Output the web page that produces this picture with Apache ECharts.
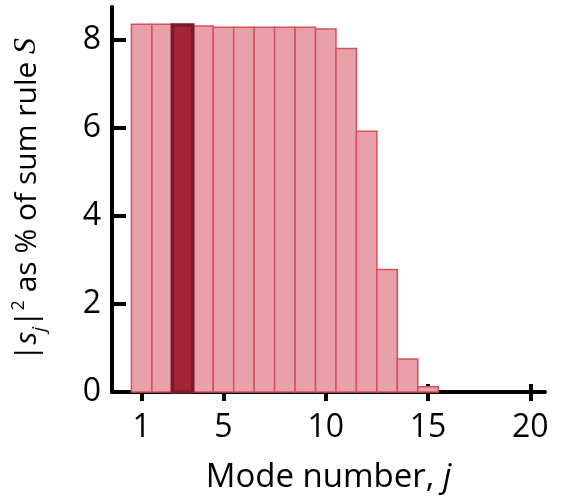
<!DOCTYPE html>
<html>
<head>
<meta charset="utf-8">
<script src="https://cdn.jsdelivr.net/npm/echarts@6/dist/echarts.min.js"></script>
<style>
  html, body { margin: 0; padding: 0; background: #fff; }
  #chart { width: 562px; height: 502px; }
</style>
</head>
<body>
<div id="chart"></div>
<script>
// Mode numbers and the share of the sum rule carried by each mode (%)
const modeNumbers = [1, 2, 3, 4, 5, 6, 7, 8, 9, 10, 11, 12, 13, 14, 15];
const sumRuleShare = [8.35, 8.35, 8.33, 8.31, 8.28, 8.28, 8.28, 8.28, 8.28, 8.24, 7.80, 5.92, 2.78, 0.75, 0.12];
// mode drawn highlighted
const highlightedMode = 3;
// axis tick labels
const xTickValues = [1, 5, 10, 15, 20];
const yTickValues = [0, 2, 4, 6, 8];

const FONT = 'Open Sans';
const TICK_SIZE = 32;
const TITLE_SIZE = 33;
const Y_TITLE_SIZE = 30;
const chart = echarts.init(document.getElementById('chart'), null, { renderer: 'canvas' });

const barData = modeNumbers.map((j, i) => [j, sumRuleShare[i]]);

function renderBar(params, api) {
  const j = api.value(0);
  const v = api.value(1);
  const p0 = api.coord([j - 0.5, v]);
  const p1 = api.coord([j + 0.5, 0]);
  const hi = j === highlightedMode;
  return {
    type: 'rect',
    z2: hi ? 10 : 1,
    shape: { x: p0[0], y: p0[1], width: p1[0] - p0[0], height: p1[1] - p0[1] },
    style: hi
      ? { fill: '#a22537', stroke: '#781b27', lineWidth: 3.5 }
      : { fill: '#e8a1a9', stroke: '#d94f60', lineWidth: 1.5 }
  };
}

const xCommon = {
  type: 'value',
  min: -0.45,
  max: 20.72,
  position: 'bottom',
  splitLine: { show: false }
};

chart.setOption({
  animation: false,
  grid: {
    left: 112, right: 17, top: 7, bottom: 110,
    containLabel: false,
    outerBoundsMode: 'none'
  },
  xAxis: [
    Object.assign({}, xCommon, {
      name: '{t|Mode number, }{i|j}',
      nameLocation: 'middle',
      nameGap: 69,
      nameTextStyle: {
        rich: {
          t: { fontFamily: FONT, fontSize: TITLE_SIZE, color: '#000' },
          i: { fontFamily: FONT, fontSize: TITLE_SIZE, fontStyle: 'italic', color: '#000' }
        }
      },
      axisLine: { show: true, onZero: false, lineStyle: { color: '#000', width: 4 } },
      axisTick: {
        show: true, inside: false, length: 9,
        customValues: xTickValues,
        lineStyle: { color: '#000', width: 4 }
      },
      axisLabel: {
        show: true, margin: 20,
        customValues: xTickValues,
        fontFamily: FONT, fontSize: TICK_SIZE, color: '#000'
      }
    }),
    Object.assign({}, xCommon, {
      axisLine: { show: false },
      axisTick: {
        show: true, inside: true, length: 8,
        customValues: xTickValues,
        lineStyle: { color: '#000', width: 4 }
      },
      axisLabel: { show: false }
    })
  ],
  yAxis: {
    type: 'value',
    min: 0,
    max: 8.74,
    splitLine: { show: false },
    axisLine: { show: true, onZero: false, lineStyle: { color: '#000', width: 4 } },
    axisTick: {
      show: true, inside: true, length: 14,
      customValues: yTickValues,
      lineStyle: { color: '#000', width: 4 }
    },
    axisLabel: {
      show: true, margin: 11,
      customValues: yTickValues,
      fontFamily: FONT, fontSize: TICK_SIZE, color: '#000'
    },
    name: '{t||}{i|s}{sub|j}{t||}{sup|2}{t| as % of sum rule }{S|S}',
    nameLocation: 'middle',
    nameRotate: 90,
    nameGap: 63,
    nameTextStyle: {
      rich: {
        t: { fontFamily: FONT, fontSize: Y_TITLE_SIZE, color: '#000', lineHeight: 44 },
        i: { fontFamily: FONT, fontSize: Y_TITLE_SIZE, fontStyle: 'italic', color: '#000', lineHeight: 44 },
        sub: { fontFamily: FONT, fontSize: 19, fontStyle: 'italic', color: '#000', verticalAlign: 'bottom', lineHeight: 24 },
        sup: { fontFamily: FONT, fontSize: 18, color: '#000', verticalAlign: 'top', padding: [5, 0, 0, 0] },
        S: { fontFamily: 'Liberation Serif', fontSize: 32, fontStyle: 'italic', color: '#000', lineHeight: 44 }
      }
    }
  },
  series: [{
    type: 'custom',
    xAxisIndex: 0,
    renderItem: renderBar,
    clip: false,
    data: barData,
    encode: { x: 0, y: 1 }
  }]
});
</script>
</body>
</html>
